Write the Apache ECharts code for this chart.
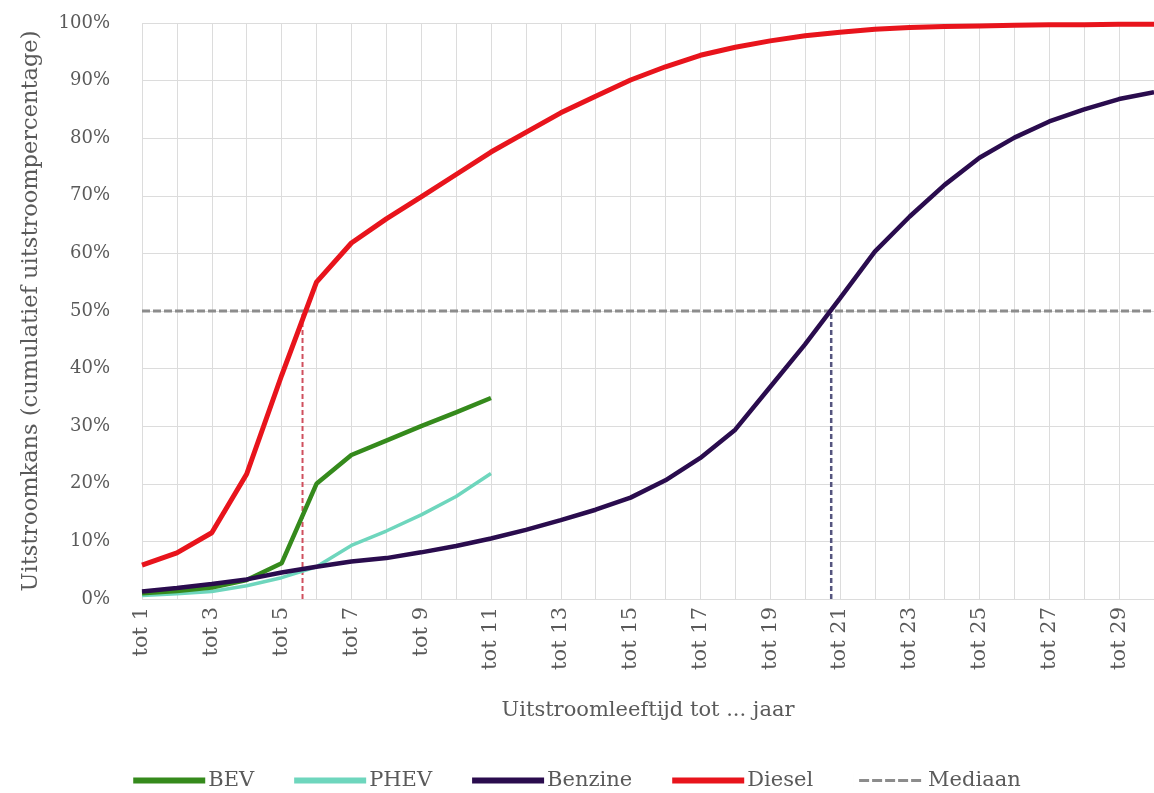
<!DOCTYPE html>
<html>
<head>
<meta charset="utf-8">
<script src="https://cdn.jsdelivr.net/npm/echarts@6/dist/echarts.min.js"></script>
<style>
html,body{margin:0;padding:0;background:#fff;}
#c{width:1154px;height:793px;}
</style>
</head>
<body>
<div id="c"></div>
<script>
// Ages (x axis: "tot N")
const ages = [1,2,3,4,5,6,7,8,9,10,11,12,13,14,15,16,17,18,19,20,21,22,23,24,25,26,27,28,29,30];
// Cumulative outflow percentages
const bev = [1.0,1.4,2.0,3.3,6.2,20.0,25.0,27.5,30.0,32.4,34.9];
const phev = [0.6,0.9,1.3,2.3,3.7,5.6,9.3,11.8,14.6,17.8,21.8];
const benzine = [1.3,1.9,2.6,3.4,4.6,5.6,6.5,7.1,8.1,9.2,10.5,12.0,13.7,15.5,17.6,20.6,24.5,29.4,36.8,44.2,52.2,60.3,66.4,71.9,76.6,80.1,82.9,85.0,86.8,88.0];
const diesel = [5.9,8.0,11.5,21.7,38.8,55.0,61.8,66.0,69.8,73.7,77.6,81.0,84.4,87.3,90.1,92.4,94.4,95.8,96.9,97.8,98.4,98.9,99.2,99.4,99.5,99.6,99.7,99.7,99.8,99.8];
// Median (50%) and median ages
const medianLevel = 50;
const medianDieselAge = 5.6;
const medianBenzineAge = 20.75;
const yTicks = [0,10,20,30,40,50,60,70,80,90,100];

function pairs(vals){ return vals.map((v,i)=>[ages[i], v]); }

const font = 'DejaVu Serif';
const txt = '#5a5a5a';
const cBEV = '#358a1c', cPHEV = '#6ed6bd', cBenz = '#2a0c4e', cDiesel = '#e8141c', cMed = '#8c8c8c';
const solidIcon = 'path://M0,-3H72V3H0Z M0,-7H0.01V7H0Z';
const dashIcon = 'path://M6,-1.5H16V1.5H6Z M19,-1.5H29V1.5H19Z M32,-1.5H42V1.5H32Z M45,-1.5H55V1.5H45Z M58,-1.5H68V1.5H58Z M0,-7H0.01V7H0Z M71.99,-7H72V7H71.99Z';

const chart = echarts.init(document.getElementById('c'), null, {renderer:'canvas'});
chart.setOption({
  backgroundColor:'#ffffff',
  animation:false,
  grid:{left:142, right:0, top:23, bottom:194, containLabel:false},
  legend:{
    data:[
      {name:'BEV', icon:solidIcon, itemStyle:{color:cBEV}},
      {name:'PHEV', icon:solidIcon, itemStyle:{color:cPHEV}},
      {name:'Benzine', icon:solidIcon, itemStyle:{color:cBenz}},
      {name:'Diesel', icon:solidIcon, itemStyle:{color:cDiesel}},
      {name:'Mediaan', icon:dashIcon, itemStyle:{color:cMed}}
    ],
    bottom:-3, left:'center',
    itemWidth:72, itemHeight:14, itemGap:40,
    textStyle:{fontFamily:font, fontSize:21, color:txt, padding:[0,0,0,-2]}
  },
  xAxis:{
    type:'value', min:1, max:30, interval:1,
    name:'Uitstroomleeftijd tot ... jaar', nameLocation:'middle', nameGap:101,
    nameTextStyle:{fontFamily:font, fontSize:21, color:txt},
    axisLine:{show:false}, axisTick:{show:false},
    splitLine:{show:true, lineStyle:{color:'#dcdcdc', width:1}},
    axisLabel:{rotate:90, margin:8, fontFamily:font, fontSize:21, color:txt,
      formatter:function(v){ return (v%2===1) ? 'tot ' + v : ''; }}
  },
  yAxis:{
    type:'value', min:0, max:100, interval:10,
    name:'Uitstroomkans (cumulatief uitstroompercentage)', nameLocation:'middle', nameGap:99,
    nameTextStyle:{fontFamily:font, fontSize:22.5, color:txt},
    axisLine:{show:false}, axisTick:{show:false},
    splitLine:{show:true, lineStyle:{color:'#dcdcdc', width:1}},
    axisLabel:{margin:32, fontFamily:font, fontSize:18, color:txt,
      formatter:function(v){ return yTicks.indexOf(v)>=0 ? v + '%' : ''; }}
  },
  series:[
    {name:'Mediaan', type:'line', symbol:'none', data:[[ages[0],medianLevel],[ages[ages.length-1],medianLevel]],
      lineStyle:{color:cMed, width:3, type:[8,3]}, itemStyle:{color:cMed}, z:1},
    {name:'mediaanDiesel', type:'line', symbol:'none', data:[[medianDieselAge,0],[medianDieselAge,medianLevel]],
      lineStyle:{color:'#d0505e', width:2, type:[5,3]}, z:1},
    {name:'mediaanBenzine', type:'line', symbol:'none', data:[[medianBenzineAge,0],[medianBenzineAge,medianLevel]],
      lineStyle:{color:'#55557f', width:2.5, type:[5,3]}, z:1},
    {name:'Benzine', type:'line', symbol:'none', data:pairs(benzine),
      lineStyle:{color:cBenz, width:4.5}, itemStyle:{color:cBenz}, z:3},
    {name:'PHEV', type:'line', symbol:'none', data:pairs(phev),
      lineStyle:{color:cPHEV, width:3.5}, itemStyle:{color:cPHEV}, z:2},
    {name:'BEV', type:'line', symbol:'none', data:pairs(bev),
      lineStyle:{color:cBEV, width:4.5}, itemStyle:{color:cBEV}, z:2},
    {name:'Diesel', type:'line', symbol:'none', data:pairs(diesel),
      lineStyle:{color:cDiesel, width:5}, itemStyle:{color:cDiesel}, z:4}
  ]
});
</script>
</body>
</html>
